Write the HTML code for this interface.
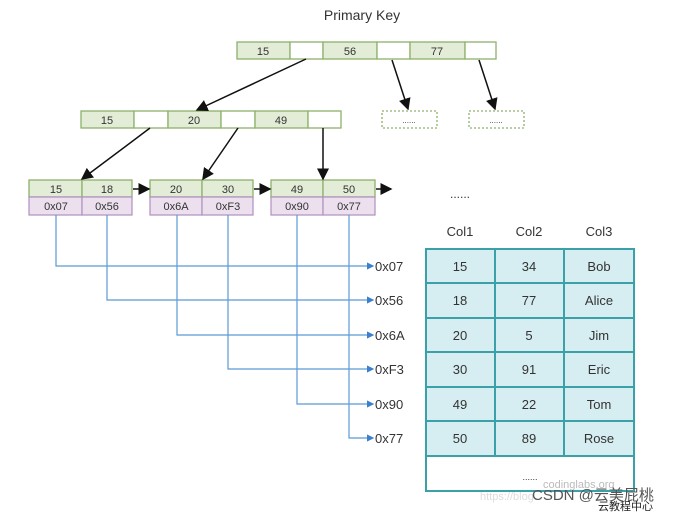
<!DOCTYPE html><html><head><style>body{margin:0;background:#fff}svg{display:block}text{font-family:"Liberation Sans","Noto Sans CJK SC",sans-serif}</style></head><body>
<svg width="684" height="514" xmlns="http://www.w3.org/2000/svg">
<defs><marker id="a" markerWidth="8" markerHeight="8" refX="7" refY="4" orient="auto"><path d="M0,0L8,4L0,8z" fill="#111"/></marker>
<marker id="b" markerWidth="6" markerHeight="6" refX="5" refY="3" orient="auto"><path d="M0,0L6,3L0,6z" fill="#3a7fd0"/></marker></defs>
<text x="362" y="20" font-size="14" text-anchor="middle" fill="#333">Primary Key</text>
<g stroke="#8db26a" stroke-width="1.3">
<rect x="237" y="42" width="53" height="17" fill="#e2ecd6"/><rect x="290" y="42" width="33" height="17" fill="#fff"/>
<rect x="323" y="42" width="54" height="17" fill="#e2ecd6"/><rect x="377" y="42" width="33" height="17" fill="#fff"/>
<rect x="410" y="42" width="55" height="17" fill="#e2ecd6"/><rect x="465" y="42" width="31" height="17" fill="#fff"/>
<rect x="81" y="111" width="53" height="17" fill="#e2ecd6"/><rect x="134" y="111" width="34" height="17" fill="#fff"/>
<rect x="168" y="111" width="53" height="17" fill="#e2ecd6"/><rect x="221" y="111" width="34" height="17" fill="#fff"/>
<rect x="255" y="111" width="53" height="17" fill="#e2ecd6"/><rect x="308" y="111" width="33" height="17" fill="#fff"/>
<rect x="382" y="111" width="55" height="17" fill="#fff" stroke-dasharray="2,2"/><rect x="469" y="111" width="55" height="17" fill="#fff" stroke-dasharray="2,2"/>
<rect x="29" y="180" width="53" height="17" fill="#e2ecd6"/><rect x="82" y="180" width="50" height="17" fill="#e2ecd6"/>
<rect x="150" y="180" width="52" height="17" fill="#e2ecd6"/><rect x="202" y="180" width="51" height="17" fill="#e2ecd6"/>
<rect x="271" y="180" width="52" height="17" fill="#e2ecd6"/><rect x="323" y="180" width="52" height="17" fill="#e2ecd6"/>
</g>
<g stroke="#b08fbf" stroke-width="1.2" fill="#ece0ef">
<rect x="29" y="197" width="53" height="18"/><rect x="82" y="197" width="50" height="18"/>
<rect x="150" y="197" width="52" height="18"/><rect x="202" y="197" width="51" height="18"/>
<rect x="271" y="197" width="52" height="18"/><rect x="323" y="197" width="52" height="18"/>
</g>
<g font-size="11" fill="#333" text-anchor="middle">
<text x="263" y="55">15</text><text x="350" y="55">56</text><text x="437" y="55">77</text>
<text x="107" y="124">15</text><text x="194" y="124">20</text><text x="281" y="124">49</text>
<text x="56" y="193">15</text><text x="107" y="193">18</text><text x="176" y="193">20</text><text x="228" y="193">30</text><text x="297" y="193">49</text><text x="349" y="193">50</text>
<text x="56" y="210">0x07</text><text x="107" y="210">0x56</text><text x="176" y="210">0x6A</text><text x="228" y="210">0xF3</text><text x="297" y="210">0x90</text><text x="349" y="210">0x77</text>
<text x="409" y="123" font-size="8">......</text><text x="496" y="123" font-size="8">......</text>
</g>
<g stroke="#111" stroke-width="1.5" marker-end="url(#a)">
<line x1="306" y1="59" x2="197" y2="110"/><line x1="392" y1="60" x2="408" y2="109"/><line x1="479" y1="60" x2="495" y2="109"/>
<line x1="150" y1="128" x2="82" y2="179"/><line x1="238" y1="128" x2="203" y2="179"/><line x1="323" y1="128" x2="323" y2="179"/>
<line x1="133" y1="189" x2="149" y2="189"/><line x1="254" y1="189" x2="270" y2="189"/><line x1="376" y1="189" x2="391" y2="189"/>
</g>
<text x="460" y="198" font-size="12" text-anchor="middle" fill="#333">......</text>
<g stroke="#5b9bd5" stroke-width="1.2" fill="none" marker-end="url(#b)">
<path d="M56,215V266H373"/><path d="M107,215V300H373"/><path d="M177,215V335H373"/><path d="M228,215V369H373"/><path d="M297,215V404H373"/><path d="M349,215V438H373"/>
</g>
<g font-size="13" fill="#333">
<text x="375" y="271">0x07</text><text x="375" y="305">0x56</text><text x="375" y="340">0x6A</text><text x="375" y="374">0xF3</text><text x="375" y="409">0x90</text><text x="375" y="443">0x77</text>
</g>
<g font-size="13" fill="#333" text-anchor="middle"><text x="460" y="236">Col1</text><text x="529" y="236">Col2</text><text x="599" y="236">Col3</text></g>
<rect x="426" y="249" width="208" height="207" fill="#d6eef1"/>
<rect x="426" y="456" width="208" height="35" fill="#fff"/>
<g stroke="#3aa1a8" stroke-width="2" fill="none">
<rect x="426" y="249" width="208" height="242"/>
<path d="M426,283H634M426,318H634M426,352H634M426,387H634M426,421H634M426,456H634M495,249V456M564,249V456"/>
</g>
<g font-size="13" fill="#333" text-anchor="middle">
<text x="460" y="271">15</text><text x="529" y="271">34</text><text x="599" y="271">Bob</text>
<text x="460" y="305">18</text><text x="529" y="305">77</text><text x="599" y="305">Alice</text>
<text x="460" y="340">20</text><text x="529" y="340">5</text><text x="599" y="340">Jim</text>
<text x="460" y="374">30</text><text x="529" y="374">91</text><text x="599" y="374">Eric</text>
<text x="460" y="409">49</text><text x="529" y="409">22</text><text x="599" y="409">Tom</text>
<text x="460" y="443">50</text><text x="529" y="443">89</text><text x="599" y="443">Rose</text>
<text x="530" y="480" font-size="9">......</text>
</g>
<text x="543" y="488" font-size="11" fill="#bbb">codinglabs.org</text>
<text x="480" y="500" font-size="11" fill="#ddd">https://blog.</text>
<text x="532" y="500" font-size="15" fill="#555">CSDN @云美屁桃</text>
<text x="598" y="510" font-size="11" fill="#222">云教程中心</text>
</svg></body></html>
